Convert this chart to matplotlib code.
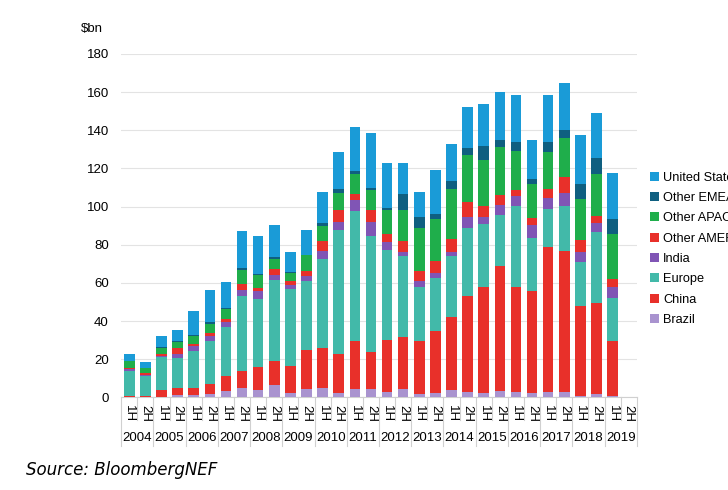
import numpy as np
import matplotlib
matplotlib.use("Agg")
import matplotlib.pyplot as plt
import matplotlib.transforms as mtransforms

plt.rcParams['font.family'] = ['Liberation Sans', 'DejaVu Sans']

# Half-year categories 2004 1H .. 2019 2H
years = [str(y) for y in range(2004, 2020)]
halves = ['1H', '2H'] * len(years)

# Investment by region, $bn (stack order bottom -> top)
brazil = [0.3, 0.3, 0.3, 1.2, 1.4, 1.6, 3.2, 5.1, 3.8, 6.3, 2.1, 4.2, 5.1, 2.1, 4.5, 4.7,
          2.8, 4.2, 1.6, 2.1, 3.8, 2.8, 2.4, 3.3, 2.8, 2.1, 2.8, 2.8, 1.0, 1.7, 1.0, 0]
china = [0.5, 0.7, 3.5, 4.0, 3.8, 5.7, 8.0, 8.7, 12.2, 12.7, 14.6, 20.9, 20.9, 20.9, 25.3, 19.2,
         27.2, 27.5, 27.9, 33.0, 38.4, 50.2, 55.5, 65.4, 55.1, 53.5, 76.0, 73.8, 46.8, 47.8, 28.8, 0]
europe = [13.2, 10.0, 17.5, 15.6, 19.2, 22.2, 25.5, 39.2, 35.6, 42.7, 40.2, 36.1, 46.7, 64.6, 67.7, 60.9,
          47.4, 42.3, 28.2, 27.5, 32.1, 35.8, 33.2, 27.1, 42.6, 28.0, 19.9, 23.9, 23.2, 37.0, 22.4, 0]
india = [0.8, 0.6, 0.7, 1.9, 2.5, 2.6, 3.1, 3.5, 4.4, 2.7, 2.2, 2.3, 3.9, 4.1, 5.8, 7.1,
         4.1, 2.2, 3.2, 2.6, 2.1, 5.6, 3.3, 5.2, 5.2, 6.9, 5.8, 6.9, 5.2, 4.9, 5.7, 0]
other_amer = [0.7, 1.0, 1.0, 3.0, 1.2, 1.7, 1.2, 3.2, 1.4, 2.7, 1.8, 2.6, 5.6, 6.3, 3.3, 6.1,
              4.3, 6.0, 5.2, 6.1, 6.6, 7.8, 5.8, 4.9, 3.1, 3.5, 4.7, 8.4, 6.5, 3.8, 4.2, 0]
other_apac = [3.5, 2.8, 3.0, 3.4, 4.2, 4.9, 5.5, 7.1, 7.0, 5.6, 4.4, 8.4, 7.5, 9.4, 10.6, 10.8,
              12.6, 15.8, 22.7, 22.2, 26.4, 25.0, 24.4, 25.6, 20.5, 17.8, 19.7, 20.1, 21.4, 21.8, 23.5, 0]
other_emea = [0.3, 0.3, 0.2, 0.3, 0.3, 0.9, 0.5, 0.9, 0.5, 1.0, 0.5, 0.4, 1.7, 2.0, 1.6, 0.9,
              0.7, 8.6, 5.6, 2.8, 3.8, 3.8, 7.4, 3.5, 4.5, 2.6, 5.2, 4.3, 7.7, 8.4, 8.1, 0]
united_states = [3.5, 2.9, 6.0, 5.8, 12.6, 16.9, 13.7, 19.5, 19.7, 16.6, 10.2, 13.1, 16.4, 19.0, 22.8, 28.8,
                 24.0, 16.5, 13.2, 23.0, 19.5, 21.4, 21.9, 25.3, 24.9, 20.6, 24.3, 24.8, 25.5, 23.6, 23.9, 0]

series = [
    ('Brazil', brazil, '#a993cf'),
    ('China', china, '#e8302a'),
    ('Europe', europe, '#42b9a9'),
    ('India', india, '#8055b5'),
    ('Other AMER', other_amer, '#e8302a'),
    ('Other APAC', other_apac, '#1fae4b'),
    ('Other EMEA', other_emea, '#0f5f80'),
    ('United States', united_states, '#1a9bd7'),
]

fig = plt.figure(figsize=(7.28, 4.9), dpi=100)
ax = fig.add_axes([0.1665, 0.1888, 0.7082, 0.701])

x = np.arange(len(halves))
bottom = np.zeros(len(halves))
handles = []
for name, vals, col in series:
    vals = np.array(vals)
    b = ax.bar(x, vals, width=0.66, bottom=bottom, color=col, label=name, zorder=3)
    handles.append(b)
    bottom += vals

ax.set_xlim(-0.5, len(halves) - 0.5)
ax.set_ylim(0, 180)
ax.set_yticks(range(0, 181, 20))
ax.tick_params(axis='y', length=0, pad=9, labelsize=9.5)
ax.yaxis.grid(True, color='#e3e3e3', linewidth=0.8, zorder=0)
ax.set_xticks([])
for s in ['top', 'right', 'left']:
    ax.spines[s].set_visible(False)
ax.spines['bottom'].set_color('#d0d0d0')

# multi-level category axis
trans = mtransforms.blended_transform_factory(ax.transData, ax.transAxes)
for i, h in enumerate(halves):
    ax.text(i, -0.022, h, transform=trans, rotation=-90, ha='center', va='top', fontsize=9.5)
for j, yr in enumerate(years):
    ax.text(2 * j + 0.5, -0.1, yr, transform=trans, ha='center', va='top', fontsize=9.5)
for k in range(len(halves) + 1):
    y_end = -0.14 if k % 2 == 0 else -0.065
    ax.plot([k - 0.5, k - 0.5], [0, y_end], transform=trans, color='#d0d0d0',
            linewidth=0.8, clip_on=False)

fig.text(0.126, 0.94, '$bn', ha='center', va='center', fontsize=9.5)

# legend runs off the right edge, as in the original slide
leg = fig.legend([handles[i] for i in range(len(handles) - 1, -1, -1)],
                 [series[i][0] for i in range(len(series) - 1, -1, -1)],
                 loc='upper left', bbox_to_anchor=(0.886, 0.66), frameon=False,
                 fontsize=9.2, handlelength=0.7, handleheight=0.7, handletextpad=0.3,
                 labelspacing=0.65, borderaxespad=0)

fig.text(0.036, 0.041, 'Source: BloombergNEF', style='italic', fontsize=12,
         family='DejaVu Sans', ha='left', va='center')

fig.savefig('out.png', dpi=100)
